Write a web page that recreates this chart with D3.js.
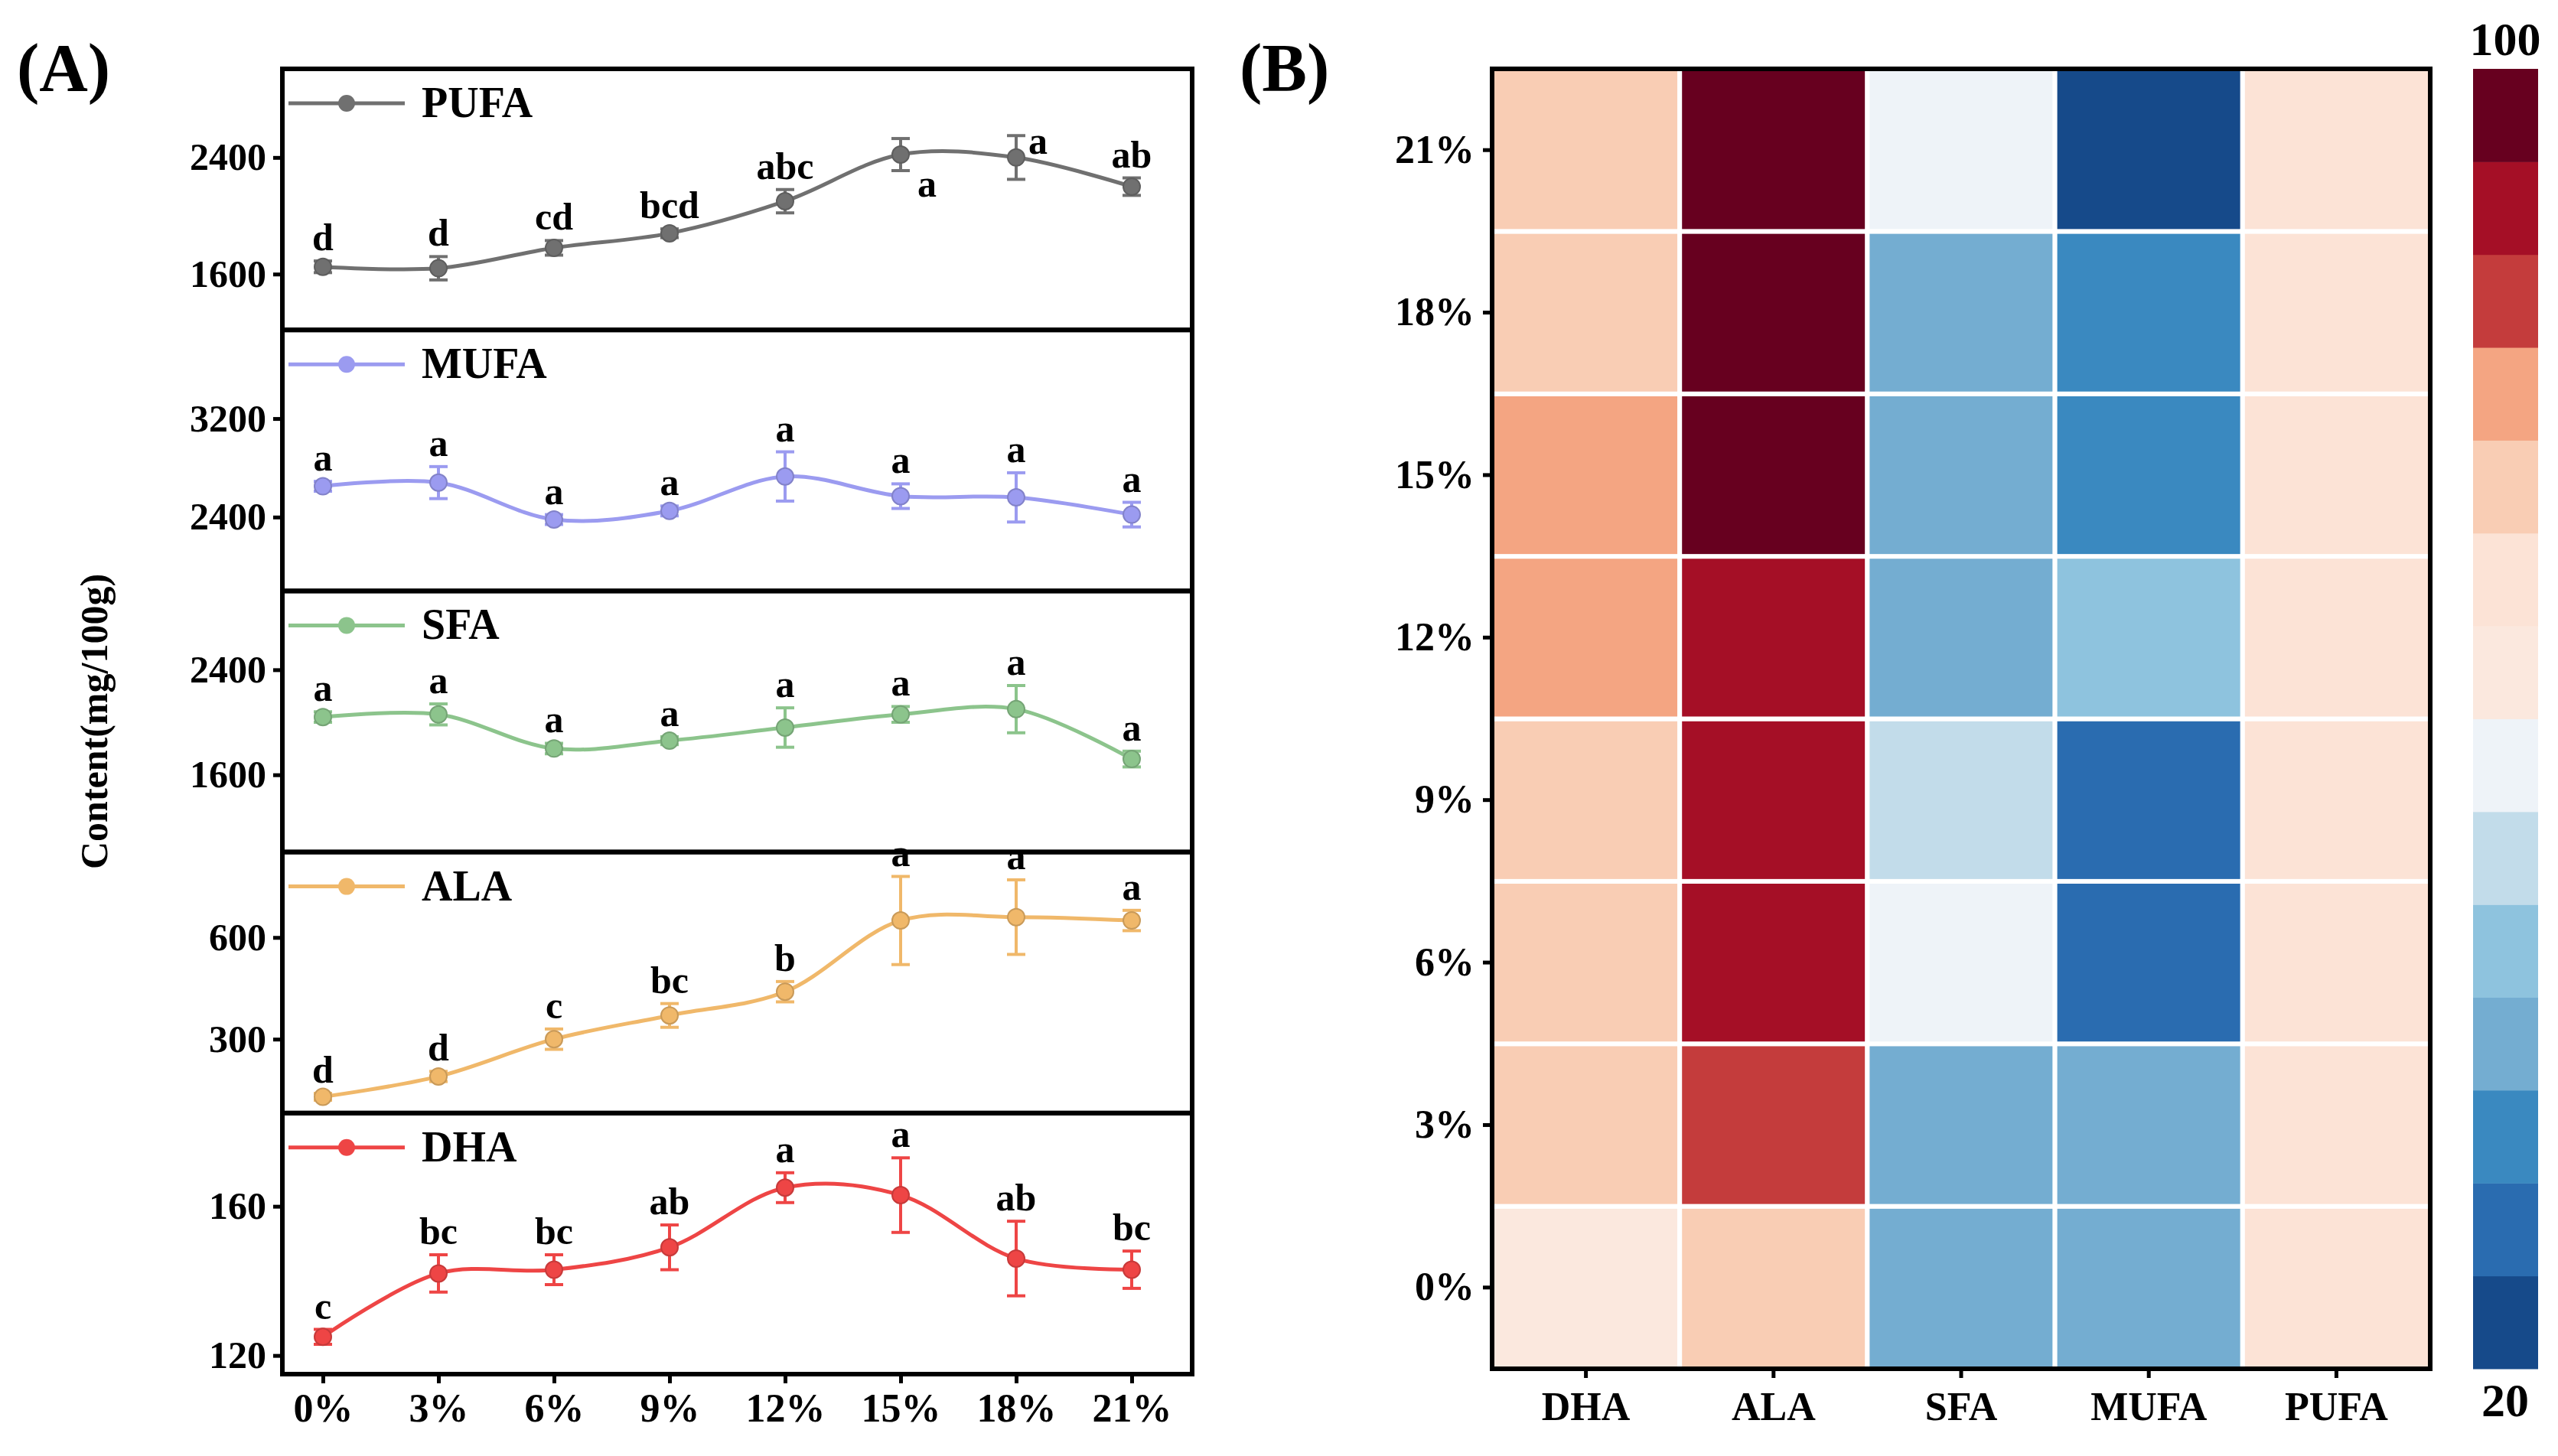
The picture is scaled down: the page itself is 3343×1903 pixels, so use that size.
<!DOCTYPE html><html><head><meta charset="utf-8">
<script src="https://cdn.jsdelivr.net/npm/d3@7"></script>
<style>body{margin:0;background:#fff}text{font-family:"Liberation Serif","Times New Roman",serif;font-weight:bold}</style>
</head><body><svg id="c" width="3343" height="1903"></svg>
<script>
const levels=["0%","3%","6%","9%","12%","15%","18%","21%"];
const seriesNames=["PUFA","MUFA","SFA","ALA","DHA"];
const seriesColors=["#707070","#9b9bf0","#8cc48c","#f0b86a","#ee4545"];
const pufa=[1650,1640,1780,1880,2100,2420,2400,2200];
const pufaErr=[40,80,50,30,80,110,150,60];
const pufaSig=["d","d","cd","bcd","abc","a","a","ab"];
const mufa=[2650,2680,2380,2450,2730,2570,2560,2420];
const mufaErr=[40,130,40,40,200,100,200,100];
const mufaSig=["a","a","a","a","a","a","a","a"];
const sfa=[2040,2060,1800,1860,1960,2060,2100,1720];
const sfaErr=[40,80,40,30,150,60,180,60];
const sfaSig=["a","a","a","a","a","a","a","a"];
const ala=[130,190,300,370,440,650,660,650];
const alaErr=[10,15,30,35,30,130,110,30];
const alaSig=["d","d","c","bc","b","a","a","a"];
const dha=[125,142,143,149,165,163,146,143];
const dhaErr=[2,5,4,6,4,10,10,5];
const dhaSig=["c","bc","bc","ab","a","a","ab","bc"];
const yTicks=[[1600,2400],[2400,3200],[1600,2400],[300,600],[120,160]];
const yDomains=[[1217,3008],[1800,3920],[1012,3000],[82,852],[115,185]];
// heatmap
const hmCols=["DHA","ALA","SFA","MUFA","PUFA"];
const hmDHA=[63,74,74,74,80,80,74,74];
const hmALA=[74,86,91,91,91,97,97,97];
const hmSFA=[40,40,57,51,40,40,40,57];
const hmMUFA=[40,40,29,29,46,34,34,23];
const hmPUFA=[69,69,69,69,69,69,69,69];
const cbColors=["#164a8a","#2a6cb0","#3a89c0","#74add1","#8ec3de","#c2dcea","#eef3f8","#fbe8de","#fce3d6","#f9cdb4","#f4a582","#c43c3c","#a50f26","#67001f"];
const cbTicks=[20,100];

const svg=d3.select("#c");
const vals=[pufa,mufa,sfa,ala,dha],errs=[pufaErr,mufaErr,sfaErr,alaErr,dhaErr],sigs=[pufaSig,mufaSig,sfaSig,alaSig,dhaSig];
const L=369,R=1558,T=90,B=1796,ph=(B-T)/5;
const x=d3.scalePoint().domain(levels).range([422,1479]);
for(let i=0;i<5;i++){
  const top=T+i*ph,bot=top+ph;
  const y=d3.scaleLinear().domain(yDomains[i]).range([bot,top]);
  const g=svg.append("g");
  const c=seriesColors[i];
  g.append("g").attr("transform",`translate(${L},0)`).call(d3.axisLeft(y).tickValues(yTicks[i]).tickSize(12).tickFormat(d3.format("d")))
   .call(a=>{a.select(".domain").remove();a.selectAll("line").attr("stroke","#000").attr("stroke-width",5);a.selectAll("text").attr("font-size",50).attr("fill","#000").attr("dx",-6);});
  const line=d3.line().x((d,j)=>x(levels[j])).y(d=>y(d)).curve(d3.curveCatmullRom);
  g.append("path").attr("d",line(vals[i])).attr("fill","none").attr("stroke",c).attr("stroke-width",5);
  vals[i].forEach((v,j)=>{
    const cx=x(levels[j]),e=errs[i][j];
    g.append("line").attr("x1",cx).attr("x2",cx).attr("y1",y(v-e)).attr("y2",y(v+e)).attr("stroke",c).attr("stroke-width",4);
    [v-e,v+e].forEach(w=>g.append("line").attr("x1",cx-12).attr("x2",cx+12).attr("y1",y(w)).attr("y2",y(w)).attr("stroke",c).attr("stroke-width",4));
    g.append("circle").attr("cx",cx).attr("cy",y(v)).attr("r",11).attr("fill",c).attr("stroke",d3.color(c).darker(0.5)).attr("stroke-width",2);
    let tx=cx,ty=y(v+e)-14,anchor="middle";
    if(i===0&&j===5){tx=cx+22;ty=y(v)+55;anchor="start";}
    if(i===0&&j===6){tx=cx+16;ty=y(v)-5;anchor="start";}
    g.append("text").attr("x",tx).attr("y",ty).attr("text-anchor",anchor).attr("font-size",50).text(sigs[i][j]);
  });
  const ly=top+45;
  g.append("line").attr("x1",L+8).attr("x2",L+160).attr("y1",ly).attr("y2",ly).attr("stroke",c).attr("stroke-width",5);
  g.append("circle").attr("cx",L+84).attr("cy",ly).attr("r",11).attr("fill",c);
  g.append("text").attr("x",L+182).attr("y",ly+18).attr("font-size",56).text(seriesNames[i]);
  g.append("rect").attr("x",L).attr("y",top).attr("width",R-L).attr("height",ph).attr("fill","none").attr("stroke","#000").attr("stroke-width",6);
}
svg.append("g").attr("transform",`translate(0,${B})`).call(d3.axisBottom(x).tickSize(12))
 .call(a=>{a.select(".domain").remove();a.selectAll("line").attr("stroke","#000").attr("stroke-width",5);a.selectAll("text").attr("font-size",52).attr("fill","#000").attr("dy","0.9em");});
svg.append("text").attr("transform","translate(140,943) rotate(-90)").attr("text-anchor","middle").attr("font-size",50).text("Content(mg/100g)");
svg.append("text").attr("x",22).attr("y",118).attr("font-size",88).text("(A)");
svg.append("text").attr("x",1620).attr("y",118).attr("font-size",88).text("(B)");

// heatmap
const hx=d3.scaleBand().domain(hmCols).range([1950,3176]);
const hy=d3.scaleBand().domain(levels).range([1789,90]);
const col=d3.scaleQuantize().domain([20,100]).range(cbColors);
const hm=[hmDHA,hmALA,hmSFA,hmMUFA,hmPUFA];
hm.forEach((arr,ci)=>arr.forEach((v,ri)=>{
  svg.append("rect").attr("x",hx(hmCols[ci])).attr("y",hy(levels[ri])).attr("width",hx.bandwidth()).attr("height",hy.bandwidth())
   .attr("fill",col(v)).attr("stroke","#fff").attr("stroke-width",6);
}));
svg.append("rect").attr("x",1950).attr("y",90).attr("width",1226).attr("height",1699).attr("fill","none").attr("stroke","#000").attr("stroke-width",6);
svg.append("g").attr("transform","translate(1950,0)").call(d3.axisLeft(hy).tickSize(12))
 .call(a=>{a.select(".domain").remove();a.selectAll("line").attr("stroke","#000").attr("stroke-width",5);a.selectAll("text").attr("font-size",52).attr("fill","#000").attr("dx",-8);});
svg.append("g").attr("transform","translate(0,1789)").call(d3.axisBottom(hx).tickSize(12))
 .call(a=>{a.select(".domain").remove();a.selectAll("line").attr("stroke","#000").attr("stroke-width",5);a.selectAll("text").attr("font-size",52).attr("fill","#000").attr("dy","1em");});
// colorbar
const cy=d3.scaleLinear().domain([20,100]).range([1789,90]);
const step=80/cbColors.length;
cbColors.forEach((c,k)=>svg.append("rect").attr("x",3232).attr("y",cy(20+(k+1)*step)).attr("width",85).attr("height",cy(20)-cy(20+step)+0.5).attr("fill",c));
cbTicks.forEach(t=>svg.append("text").attr("x",3274).attr("y",t===100?cy(t)-18:cy(t)+62).attr("text-anchor","middle").attr("font-size",62).text(t));
</script></body></html>
